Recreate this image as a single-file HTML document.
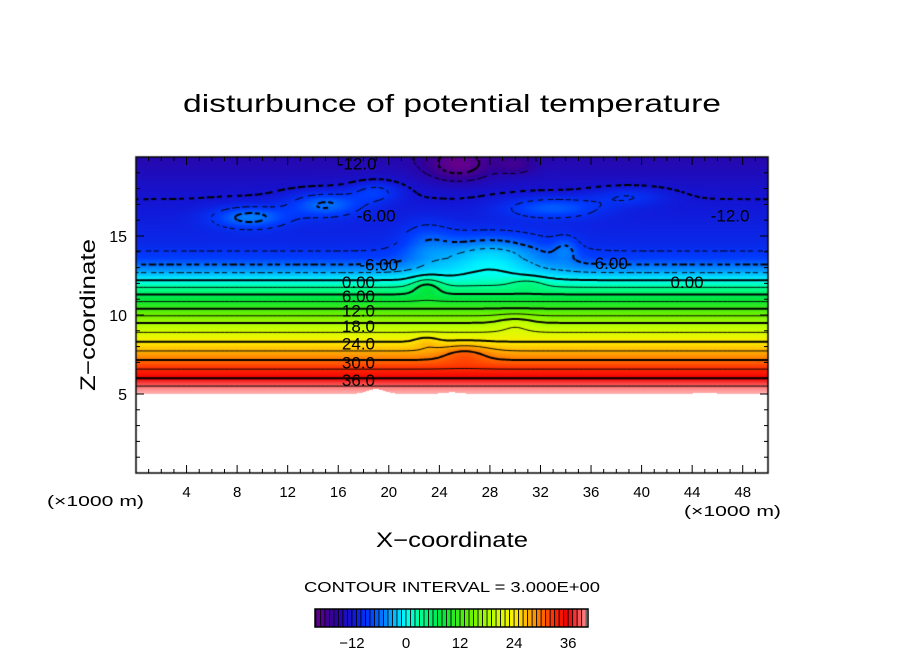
<!DOCTYPE html>
<html><head><meta charset="utf-8"><style>
html,body{margin:0;padding:0;background:#fff;width:904px;height:654px;overflow:hidden}
#wrap{position:relative;width:904px;height:654px}
canvas,svg{position:absolute;left:0;top:0}
text{font-family:"Liberation Sans",sans-serif;fill:#000}
</style></head><body>
<div id="wrap">
<canvas id="cv" width="904" height="654"></canvas>
<svg id="sv" width="904" height="654">
<text x="452" y="112" text-anchor="middle" font-size="25" textLength="538" lengthAdjust="spacingAndGlyphs">disturbunce of potential temperature</text>
<text x="452" y="547" text-anchor="middle" font-size="21" textLength="152" lengthAdjust="spacingAndGlyphs">X−coordinate</text>
<text transform="translate(95,315) rotate(-90)" text-anchor="middle" font-size="21" textLength="152" lengthAdjust="spacingAndGlyphs">Z−coordinate</text>
<text x="47" y="506" font-size="15" textLength="97" lengthAdjust="spacingAndGlyphs">(×1000 m)</text>
<text x="684" y="516" font-size="15" textLength="97" lengthAdjust="spacingAndGlyphs">(×1000 m)</text>
<text x="452" y="592" text-anchor="middle" font-size="15" textLength="296" lengthAdjust="spacingAndGlyphs">CONTOUR INTERVAL = 3.000E+00</text>
<g id="ticks"></g><g id="clabels"></g><g id="cbar"></g>
</svg>
</div>
<script>
// ---- data ----
const baseZ = [4, 5, 6, 7.15, 8.3, 9.5, 10.4, 11.3, 12.2, 13.0, 13.6, 14.5, 16, 18, 20];
const baseV = [48, 42, 36, 30, 24, 18, 12, 6, 0, -5, -8, -10, -11, -12.5, -14.5];
const bumpX = [28, 23, 23, 9, 15, 19, 33, 39, 25.5, 30, 26, 23, 30, 31, 34];
const bumpZ = [13.8, 14.5, 11.8, 16.2, 17, 17.8, 16.8, 17.5, 19.5, 19.5, 7.6, 8.3, 9.5, 12.0, 14.2];
const bumpSx = [4.5, 2, 1.2, 3, 3, 2, 4, 3, 2.5, 1.5, 2, 1, 1.5, 1.5, 1];
const bumpSz = [1.3, 1.5, 0.6, 0.7, 0.8, 0.7, 0.7, 0.6, 1, 0.6, 0.6, 0.4, 0.6, 0.4, 0.8];
const bumpAmp = [7, 3, 4, 6, 6, 4, 5, 3, -6, -3, 3, 2, 2, 2, 3];
const groundBase = 5;
const groundBumpX = [19, 25, 45];
const groundBumpAmp = [0.3, 0.1, 0.08];
const xTicks = [4, 8, 12, 16, 20, 24, 28, 32, 36, 40, 44, 48];
const yTicks = [5, 10, 15];
const cbarTicks = [-12, 0, 12, 24, 36];
const labelText = ["-12.0", "-6.00", "-12.0", "-6.00", "6.00", "0.00", "0.00", "6.00", "12.0", "18.0", "24.0", "30.0", "36.0"];
const labelX = [17.5, 19, 47, 19.2, 37.6, 17.6, 43.6, 17.6, 17.6, 17.6, 17.6, 17.6, 17.6];
const labelZ = [19.6, 16.3, 16.3, 13.2, 13.3, 12.1, 12.1, 11.2, 10.3, 9.3, 8.2, 7.0, 5.9];

// ---- axes ----
const X0 = 136, X1 = 768, Y0 = 473, Y1 = 157, XMAX = 50, ZMAX = 20;
const sx = x => X0 + (X1 - X0) * x / XMAX;
const sz = z => Y0 - (Y0 - Y1) * z / ZMAX;
const ix = px => (px - X0) / (X1 - X0) * XMAX;
const iz = py => (Y0 - py) / (Y0 - Y1) * ZMAX;

function interp(xs, ys, v) {
  if (v <= xs[0]) return ys[0];
  for (let i = 1; i < xs.length; i++) if (v <= xs[i]) { const t = (v - xs[i-1]) / (xs[i] - xs[i-1]); return ys[i-1] + t * (ys[i] - ys[i-1]); }
  return ys[ys.length - 1];
}
function field(x, z) {
  let v = interp(baseZ, baseV, z);
  for (let i = 0; i < bumpX.length; i++) {
    const dx = (x - bumpX[i]) / bumpSx[i], dz = (z - bumpZ[i]) / bumpSz[i];
    v += bumpAmp[i] * Math.exp(-(dx*dx + dz*dz));
  }
  return v;
}
function ground(x) {
  let g = groundBase;
  for (let i = 0; i < groundBumpX.length; i++) { const d = (x - groundBumpX[i]) / 1; g += groundBumpAmp[i] * Math.exp(-d*d); }
  return g;
}
const cStops = [-20,-16,-12,-8,-4,0,3,8,14,20,24,28,33,36,40,42];
const cR = [100,50,20,0,0,0,0,0,100,200,255,255,255,240,255,255];
const cG = [0,0,20,60,150,255,255,230,240,255,240,160,40,0,140,180];
const cB = [140,150,210,255,255,255,150,60,0,0,0,0,0,0,140,180];
const col = v => [interp(cStops,cR,v), interp(cStops,cG,v), interp(cStops,cB,v)];

const cv = document.getElementById('cv'), ctx = cv.getContext('2d');
const img = ctx.createImageData(X1 - X0, Y0 - Y1);
for (let py = Y1; py < Y0; py++) for (let px = X0; px < X1; px++) {
  const x = ix(px + 0.5), z = iz(py + 0.5);
  const k = ((py - Y1) * (X1 - X0) + (px - X0)) * 4;
  let c = [255,255,255];
  if (z >= ground(x)) c = col(field(x, z));
  img.data[k] = c[0]; img.data[k+1] = c[1]; img.data[k+2] = c[2]; img.data[k+3] = 255;
}
ctx.putImageData(img, X0, Y1);

// marching squares
const NX = 251, NZ = 201, dxg = XMAX / (NX - 1), dzg = ZMAX / (NZ - 1);
const G = [];
for (let j = 0; j < NZ; j++) { G.push([]); for (let i = 0; i < NX; i++) { const x = i*dxg, z = j*dzg; G[j].push(z < ground(x) - 0.05 ? NaN : field(x, z)); } }
for (let L = -18; L <= 42; L += 3) {
  const lev = L + 1e-4;
  ctx.beginPath();
  for (let j = 0; j < NZ - 1; j++) for (let i = 0; i < NX - 1; i++) {
    const a = G[j][i], b = G[j][i+1], c = G[j+1][i+1], d = G[j+1][i];
    if (isNaN(a)||isNaN(b)||isNaN(c)||isNaN(d)) continue;
    const pts = [];
    const edge = (v1, v2, x1, z1, x2, z2) => { if ((v1 - lev) * (v2 - lev) < 0) { const t = (lev - v1) / (v2 - v1); pts.push([sx(x1 + t*(x2-x1)), sz(z1 + t*(z2-z1))]); } };
    const x0 = i*dxg, x1 = (i+1)*dxg, z0 = j*dzg, z1 = (j+1)*dzg;
    edge(a,b,x0,z0,x1,z0); edge(b,c,x1,z0,x1,z1); edge(c,d,x1,z1,x0,z1); edge(d,a,x0,z1,x0,z0);
    for (let p = 0; p + 1 < pts.length; p += 2) {
      if (L < 0) {
        const mx = (pts[p][0] + pts[p+1][0]) / 2, my = (pts[p][1] + pts[p+1][1]) / 2;
        const s = ((mx + my) % 9 + 9) % 9;
        if (s > 5.5) continue;
      }
      ctx.moveTo(pts[p][0], pts[p][1]); ctx.lineTo(pts[p+1][0], pts[p+1][1]);
    }
  }
  ctx.lineWidth = (L % 6 === 0) ? 2 : 1;
  ctx.strokeStyle = '#000';
  ctx.stroke();
}
ctx.lineWidth = 1.5; ctx.strokeStyle = '#000';
ctx.strokeRect(X0, Y1, X1 - X0, Y0 - Y1);

// ticks & labels
const NS = 'http://www.w3.org/2000/svg';
const tg = document.getElementById('ticks');
function line(g, x1, y1, x2, y2, w, name) {
  const l = document.createElementNS(NS, 'line');
  l.setAttribute('x1', x1); l.setAttribute('y1', y1); l.setAttribute('x2', x2); l.setAttribute('y2', y2);
  l.setAttribute('stroke', '#000'); l.setAttribute('stroke-width', w);
  
  
  g.appendChild(l);
}
function txt(g, x, y, s, size, anchor, name) {
  const t = document.createElementNS(NS, 'text');
  t.setAttribute('x', x); t.setAttribute('y', y); t.setAttribute('font-size', size); t.setAttribute('text-anchor', anchor);
  t.textContent = s;
  
  
  g.appendChild(t);
}
for (let x = 1; x < XMAX; x++) {
  const major = x % 4 === 0, L = major ? 8 : 4;
  line(tg, sx(x), Y0, sx(x), Y0 - L, 1, 'x-tick');
  line(tg, sx(x), Y1, sx(x), Y1 + L, 1, 'x-tick-top');
}
for (let z = 1; z < ZMAX; z++) {
  const major = z % 5 === 0, L = major ? 8 : 4;
  line(tg, X0, sz(z), X0 + L, sz(z), 1, 'y-tick');
  line(tg, X1, sz(z), X1 - L, sz(z), 1, 'y-tick-right');
}
xTicks.forEach(v => txt(tg, sx(v), 497, String(v), 15, 'middle', 'x-tick-label'));
yTicks.forEach(v => txt(tg, 127, sz(v) + 6, String(v), 16, 'end', 'y-tick-label'));

const lg = document.getElementById('clabels');
labelText.forEach((s, i) => txt(lg, sx(labelX[i]), sz(labelZ[i]) + 6, s, 17, 'middle', 'contour-label'));

// colorbar
const cb = document.getElementById('cbar');
const CB0 = 315, CB1 = 588, CBV0 = -20.2, CBV1 = 40.4, CBY = 609, CBH = 18;
const cbx = v => CB0 + (CB1 - CB0) * (v - CBV0) / (CBV1 - CBV0);
for (let v = -20; v < 40; v += 1) {
  const c = col(v + 0.5);
  const r = document.createElementNS(NS, 'rect');
  r.setAttribute('x', cbx(v)); r.setAttribute('y', CBY); r.setAttribute('width', cbx(v + 1) - cbx(v)); r.setAttribute('height', CBH);
  r.setAttribute('fill', `rgb(${c[0]|0},${c[1]|0},${c[2]|0})`);
  r.setAttribute('stroke', '#000'); r.setAttribute('stroke-width', 0.8);
  
  
  cb.appendChild(r);
}
const fr = document.createElementNS(NS, 'rect');
fr.setAttribute('x', CB0); fr.setAttribute('y', CBY); fr.setAttribute('width', CB1 - CB0); fr.setAttribute('height', CBH);
fr.setAttribute('fill', 'none'); fr.setAttribute('stroke', '#000'); fr.setAttribute('stroke-width', 1.5);


cb.appendChild(fr);
cbarTicks.forEach(v => txt(cb, cbx(v), 648, v < 0 ? '−' + Math.abs(v) : String(v), 15, 'middle', 'colorbar-tick-label'));
</script>
</body></html>
